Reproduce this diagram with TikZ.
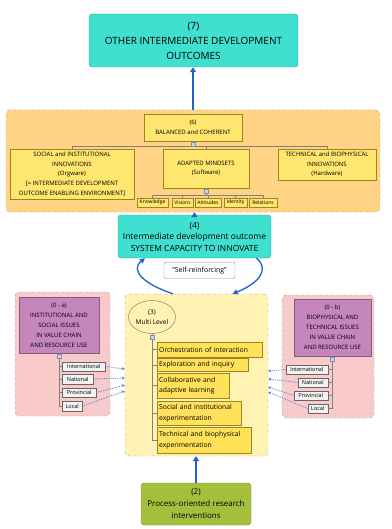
\documentclass[tikz,border=0pt]{standalone}
\usepackage{fontspec}
\setmainfont{Open Sans}
\usetikzlibrary{arrows.meta,shapes.geometric,positioning}

\definecolor{tealbox}{HTML}{40E0D0}
\definecolor{tealline}{HTML}{3A9E92}
\definecolor{orangegrp}{HTML}{FFD383}
\definecolor{yellowbox}{HTML}{FFE66E}
\definecolor{actionyellow}{HTML}{FFE15A}
\definecolor{yellowline}{HTML}{9C8420}
\definecolor{paleyellow}{HTML}{FFF2B3}
\definecolor{pinkgrp}{HTML}{F9CACA}
\definecolor{purplebox}{HTML}{C585BD}
\definecolor{purpleline}{HTML}{80607A}
\definecolor{greenbox}{HTML}{A5BF3D}
\definecolor{greenline}{HTML}{7E9530}
\definecolor{arrowblue}{HTML}{1F62CC}
\definecolor{grpline}{HTML}{A0A0A0}
\definecolor{ovalline}{HTML}{7A6A50}
\definecolor{togglefill}{HTML}{C8D4E8}
\definecolor{toggleline}{HTML}{8090B0}

\begin{document}
\begin{tikzpicture}[x=1pt,y=-1pt,
    outcome/.style={draw=tealline,fill=tealbox,rounded corners=3pt,align=center,inner sep=0pt},
    cluster/.style={draw=grpline,dashed,rounded corners=4pt,inner sep=0pt},
    subbox/.style={draw=yellowline,fill=yellowbox,align=center,inner sep=0pt,font=\fontsize{6}{9.6}\selectfont},
    tinybox/.style={draw=yellowline,fill=yellowbox,inner sep=0pt,minimum height=9pt,font=\fontsize{5}{6}\selectfont},
    issue/.style={draw=purpleline,fill=purplebox,align=center,inner sep=0pt,font=\fontsize{6}{10}\selectfont},
    scalebox/.style={draw=black!60,fill=black!5,inner sep=0pt,minimum height=9.5pt,font=\fontsize{5.5}{6}\selectfont},
    actionbox/.style={draw=yellowline,fill=actionyellow,anchor=west,align=left,inner sep=2pt,font=\fontsize{6.8}{10.5}\selectfont},
    flowline/.style={draw=arrowblue,line width=2pt,-{Triangle[length=5pt,width=6pt]}},
    loopline/.style={draw=arrowblue,line width=1.3pt,-{Triangle[length=5pt,width=5pt]}},
    feedline/.style={draw=arrowblue!80,line width=0.8pt,densely dotted,-{Stealth[length=3pt,width=3pt]}},
    treeline/.style={draw=black!50,line width=0.5pt},
    togglebox/.style={draw=toggleline,fill=togglefill,inner sep=0pt,minimum size=4pt}
]

    % Canvas
    \fill[white] (0,0) rectangle (391,529);
    \useasboundingbox (0,0) rectangle (391,529);

    % Outcome boxes
    \node[outcome,minimum width=209pt,minimum height=53pt,font=\fontsize{10}{15}\selectfont] (other) at (193.5,40.5)
        {(7)\\OTHER INTERMEDIATE DEVELOPMENT\\OUTCOMES};
    \node[outcome,minimum width=153pt,minimum height=43pt,font=\fontsize{8.5}{11.5}\selectfont] (capacity) at (194.5,236.5)
        {(4)\\Intermediate development outcome\\SYSTEM CAPACITY TO INNOVATE};

    % Group backgrounds
    \node[cluster,fill=orangegrp,minimum width=374pt,minimum height=102pt] (layer6) at (193,161) {};
    \node[cluster,fill=pinkgrp,minimum width=95pt,minimum height=124pt] (groupA) at (62.5,354) {};
    \node[cluster,fill=pinkgrp,minimum width=92pt,minimum height=123pt] (groupB) at (328,356.5) {};
    \node[cluster,fill=paleyellow,minimum width=143pt,minimum height=162pt] (levels) at (196.5,375) {};

    % Balanced and coherent innovations
    \node[subbox,minimum width=98pt,minimum height=27pt] (balanced) at (193,127.5) {(6)\\BALANCED and COHERENT};
    \node[subbox,minimum width=124pt,minimum height=50pt] (social) at (72,174)
        {SOCIAL and INSTITUTIONAL\\INNOVATIONS\\(Orgware)\\{[}= INTERMEDIATE DEVELOPMENT\\OUTCOME ENABLING ENVIRONMENT{]}};
    \node[subbox,minimum width=86pt,minimum height=39pt] (mindsets) at (206,168.5) {ADAPTED MINDSETS\\(Software)};
    \node[subbox,minimum width=98pt,minimum height=31pt] (technical) at (327,164.5)
        {TECHNICAL and BIOPHYSICAL\\INNOVATIONS\\(Hardware)};

    % Mindset components
    \foreach \n/\txt/\x/\w in {knowledge/Knowledge/152.5/31, visions/Visions/182.5/21,
        attitudes/Attitudes/208/26, identity/Identity/235.5/23, relations/Relations/263/28} {
        \node[tinybox,minimum width=\w pt] (\n) at (\x,202.5) {\txt};
    }

    % Tree of layer 6
    \draw[treeline] (balanced.south) -- (balanced.south |- 0,146);
    \draw[treeline] (social.north) -- (social.north |- 0,146) -| (technical.north);
    \draw[treeline] (mindsets.north) -- (mindsets.north |- 0,146);
    \draw[treeline] (mindsets.south) -- (mindsets.south |- 0,195);
    \draw[treeline] (knowledge.north) -- (knowledge.north |- 0,195) -| (relations.north);
    \foreach \n in {visions,attitudes,identity} {
        \draw[treeline] (\n.north) -- (\n.north |- 0,195);
    }
    \node[togglebox] (toggle6) at (balanced.south |- 0,144) {};
    \node[togglebox] (toggleM) at (mindsets.south |- 0,191) {};

    % Issue boxes
    \node[issue,minimum width=80pt,minimum height=56pt] (issueA) at (59,325)
        {(0 - a)\\INSTITUTIONAL AND\\SOCIAL ISSUES\\IN VALUE CHAIN\\AND RESOURCE USE};
    \node[issue,minimum width=77pt,minimum height=57pt] (issueB) at (332.5,327.5)
        {(0 - b)\\BIOPHYSICAL AND\\TECHNICAL ISSUES\\IN VALUE CHAIN\\AND RESOURCE USE};

    % Scales on the left
    \foreach \n/\txt/\w/\y in {aint/International/43/366.5, anat/National/31/379,
        aprov/Provincial/34/392.5, aloc/Local/20/406} {
        \node[scalebox,minimum width=\w pt,anchor=west] (\n) at (62,\y) {\txt};
    }
    \draw[treeline] (issueA.south) -- (issueA.south |- aloc.west) -- (aloc.west);
    \foreach \n in {aint,anat,aprov} {
        \draw[treeline] (\n.west) -- (\n.west -| issueA.south);
    }
    \node[togglebox] (toggleA) at ([yshift=-3pt]issueA.south) {};

    % Scales on the right
    \foreach \n/\txt/\w/\y in {bint/International/42/369.5, bnat/National/30/382.5,
        bprov/Provincial/34/395.5, bloc/Local/20/408.5} {
        \node[scalebox,minimum width=\w pt,anchor=east] (\n) at (328,\y) {\txt};
    }
    \draw[treeline] (issueB.south) -- (issueB.south |- bloc.east) -- (bloc.east);
    \foreach \n in {bint,bnat,bprov} {
        \draw[treeline] (\n.east) -- (\n.east -| issueB.south);
    }
    \node[togglebox] (toggleB) at ([yshift=-3pt]issueB.south) {};

    % Multi level process
    \node[ellipse,draw=ovalline,fill=paleyellow,minimum width=47pt,minimum height=33pt,inner sep=0pt,
        align=center,font=\fontsize{6.5}{10}\selectfont] (multi) at (152,317) {(3)\\Multi Level};
    \node[actionbox,text width=101pt,minimum height=15pt] (orch) at (157,349.5) {Orchestration of interaction};
    \node[actionbox,text width=87pt,minimum height=13pt] (explore) at (157,365) {Exploration and inquiry};
    \node[actionbox,text width=68pt,minimum height=25pt] (collab) at (157,385.5) {Collaborative and\\adaptive learning};
    \node[actionbox,text width=80pt,minimum height=24pt] (socexp) at (157,413) {Social and institutional\\experimentation};
    \node[actionbox,text width=90pt,minimum height=26pt] (techexp) at (157,440) {Technical and biophysical\\experimentation};
    \draw[treeline] (multi.south) -- (multi.south |- techexp.west) -- (techexp.west);
    \foreach \n in {orch,explore,collab,socexp} {
        \draw[treeline] (\n.west) -- (\n.west -| multi.south);
    }
    \node[togglebox] (toggle3) at ([yshift=-3pt]multi.south) {};

    % Research interventions
    \node[draw=greenline,fill=greenbox,rounded corners=3pt,align=center,inner sep=0pt,
        minimum width=110pt,minimum height=42pt,font=\fontsize{8}{12}\selectfont] (research) at (196,504)
        {(2)\\Process-oriented research\\interventions};

    % Self-reinforcing loop
    \node[draw=black!45,fill=white,rounded corners=2pt,minimum width=71pt,minimum height=16pt,inner sep=0pt,
        font=\fontsize{7}{8}\selectfont] (selfloop) at (199.5,270.5) {"Self-reinforcing"};
    \draw[loopline] ([xshift=-23.5pt]levels.north) .. controls +(-30,-10) and +(-15,12) .. ([xshift=-49.5pt]capacity.south);
    \draw[loopline] ([xshift=62pt]capacity.south) .. controls +(14,12) and +(25,-10) .. ([xshift=36pt]levels.north);

    % Main flow
    \draw[flowline] (research.north) -- (research.north |- levels.south);
    \draw[flowline] (capacity.north) -- (capacity.north |- layer6.south);
    \draw[flowline] (layer6.north) -- (layer6.north |- other.south);

    % Feeds from the issue scales
    \foreach \n/\y in {aint/369,anat/378,aprov/385,aloc/391} {
        \draw[feedline] (\n.east) -- (levels.west |- 0,\y);
    }
    \foreach \n/\y in {bint/371,bnat/379,bprov/387,bloc/392} {
        \draw[feedline] (\n.west) -- (levels.east |- 0,\y);
    }

\end{tikzpicture}
\end{document}
